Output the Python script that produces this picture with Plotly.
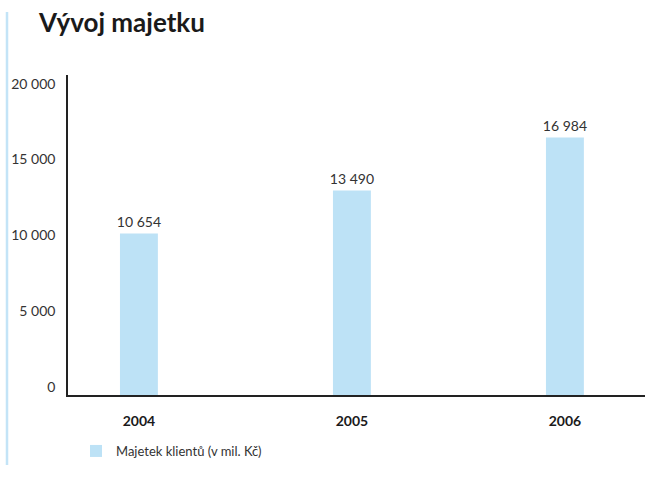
import plotly.graph_objects as go

years = ["2004", "2005", "2006"]
values = [10654, 13490, 16984]
series_name = "Majetek klientů (v mil. Kč)"
title_text = "Vývoj majetku"
y_ticks = [0, 5000, 10000, 15000, 20000]

FONT = "Lato, 'Open Sans', sans-serif"
BAR = "#bde2f6"

fig = go.Figure()
fig.add_trace(go.Bar(
    x=years, y=values, name=series_name,
    marker=dict(color=BAR, line=dict(width=0)),
    width=0.178,
    texttemplate="%{y:,d}", textposition="outside", constraintext="none",
    textfont=dict(size=14, color="#333333", family=FONT),
    cliponaxis=False,
    showlegend=True,
))

fig.update_layout(
    width=645, height=488,
    margin=dict(l=68, r=0, t=75, b=93, autoexpand=False),
    paper_bgcolor="white", plot_bgcolor="white",
    separators=", ",
    font=dict(family=FONT, color="#333333"),
    title=dict(text="<b>" + title_text + "</b>", xref="container", yref="container",
               x=39/645, xanchor="left", y=1-23/488, yanchor="middle",
               pad=dict(l=0, r=0, t=0, b=0),
               font=dict(size=26, color="#1a1a1a", family=FONT)),
    xaxis=dict(type="category", range=[-0.333, 2.376], showline=True, automargin=False,
               linecolor="#222222", linewidth=1.5, ticks="", showgrid=False,
               tickfont=dict(size=14, color="#1a1a1a", family=FONT),
               tickprefix="<b>", ticksuffix="</b>", ticklabelstandoff=12),
    yaxis=dict(range=[0, 21100], showline=True, linecolor="#222222", linewidth=1.5,
               automargin=False,
               ticks="", showgrid=False, zeroline=False, tickvals=y_ticks,
               tickformat=",d", tickfont=dict(size=14, color="#333333", family=FONT),
               ticklabelshift=-8, ticklabelstandoff=8),
    bargap=0.8,
    showlegend=True,
    legend=dict(orientation="h", x=(76-68)/577, xanchor="left", y=-(451-395)/320,
                yanchor="middle", font=dict(size=13, color="#333333", family=FONT),
                bgcolor="rgba(0,0,0,0)"),
    shapes=[dict(type="line", xref="paper", yref="paper",
                 x0=(7-68)/577, x1=(7-68)/577, y0=(395-12)/320, y1=(395-465)/320,
                 line=dict(color="#c3e4f7", width=2.5))],
)

fig.write_html("out.html", config={"displayModeBar": False},
               post_script="document.body.style.margin='0';document.body.style.overflow='hidden';")
